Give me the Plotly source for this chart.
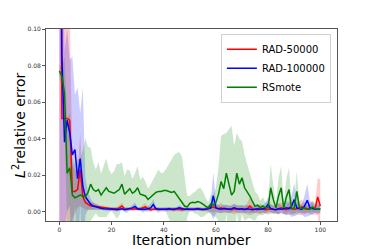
import plotly.graph_objects as go

iterations = list(range(101))

rad50k_mean = [0.30, 0.051, 0.051, 0.051, 0.050, 0.011, 0.011, 0.012, 0.023, 0.008,
               0.005, 0.004, 0.003, 0.003, 0.0028, 0.0025, 0.002, 0.002, 0.0018, 0.0015,
               0.0015, 0.0015, 0.0015, 0.002, 0.003, 0.0015, 0.0012, 0.0015, 0.0012, 0.0015,
               0.0012, 0.0015, 0.002, 0.0025, 0.0015, 0.001, 0.0012, 0.0015, 0.0012, 0.001,
               0.0012, 0.0012, 0.0015, 0.0012, 0.001, 0.0015, 0.0012, 0.001, 0.0012, 0.0015,
               0.0012, 0.001, 0.0012, 0.0015, 0.0012, 0.001, 0.0012, 0.0015, 0.002, 0.0025,
               0.002, 0.0015, 0.002, 0.0012, 0.0015, 0.0012, 0.001, 0.0015, 0.0012, 0.0015,
               0.0012, 0.001, 0.0015, 0.003, 0.0015, 0.0012, 0.001, 0.0015, 0.0012, 0.001,
               0.0012, 0.0015, 0.0012, 0.001, 0.0015, 0.002, 0.0015, 0.001, 0.002, 0.0015,
               0.0012, 0.0015, 0.002, 0.0025, 0.0015, 0.0012, 0.0015, 0.002, 0.0015, 0.008,
               0.003]
rad50k_std = [0.5, 0.06, 0.08, 0.1, 0.06, 0.015, 0.012, 0.01, 0.02, 0.006,
              0.004, 0.003, 0.002, 0.002, 0.0015, 0.0015, 0.0012, 0.0012, 0.001, 0.001,
              0.001, 0.001, 0.001, 0.0015, 0.002, 0.001, 0.001, 0.001, 0.001, 0.001,
              0.001, 0.001, 0.0015, 0.002, 0.001, 0.001, 0.001, 0.001, 0.001, 0.001,
              0.001, 0.001, 0.001, 0.001, 0.001, 0.001, 0.001, 0.001, 0.001, 0.001,
              0.001, 0.001, 0.001, 0.001, 0.001, 0.001, 0.001, 0.0015, 0.002, 0.003,
              0.002, 0.002, 0.003, 0.002, 0.002, 0.002, 0.002, 0.003, 0.002, 0.002,
              0.002, 0.002, 0.003, 0.005, 0.003, 0.002, 0.002, 0.003, 0.002, 0.002,
              0.002, 0.003, 0.002, 0.002, 0.003, 0.003, 0.003, 0.002, 0.004, 0.003,
              0.002, 0.003, 0.004, 0.004, 0.003, 0.002, 0.003, 0.004, 0.003, 0.01,
              0.015]

rad100k_mean = [0.30, 0.085, 0.038, 0.050, 0.043, 0.031, 0.034, 0.018, 0.029, 0.014,
                0.008, 0.006, 0.004, 0.003, 0.0025, 0.002, 0.0018, 0.0015, 0.0015, 0.0012,
                0.0012, 0.0012, 0.001, 0.0012, 0.0015, 0.001, 0.0012, 0.0015, 0.002, 0.0028,
                0.0015, 0.0012, 0.001, 0.0012, 0.0015, 0.002, 0.0038, 0.0015, 0.0012, 0.001,
                0.0012, 0.0012, 0.0015, 0.0012, 0.0012, 0.0015, 0.002, 0.0015, 0.0012, 0.0012,
                0.001, 0.0012, 0.0012, 0.0015, 0.0012, 0.001, 0.0012, 0.0015, 0.002, 0.0085,
                0.002, 0.0015, 0.0012, 0.0018, 0.0015, 0.0012, 0.0015, 0.002, 0.0015, 0.0012,
                0.0015, 0.0012, 0.0015, 0.0012, 0.001, 0.0012, 0.0015, 0.0012, 0.0015, 0.0018,
                0.004, 0.0015, 0.0012, 0.001, 0.0015, 0.0012, 0.0015, 0.002, 0.0015, 0.003,
                0.0065, 0.002, 0.0015, 0.0012, 0.003, 0.0062, 0.002, 0.0015, 0.0012, 0.0015,
                0.0012]
rad100k_std = [0.5, 0.1, 0.05, 0.05, 0.04, 0.054, 0.03, 0.05, 0.025, 0.054,
               0.01, 0.005, 0.003, 0.002, 0.0015, 0.0012, 0.001, 0.001, 0.001, 0.001,
               0.001, 0.001, 0.001, 0.001, 0.001, 0.001, 0.001, 0.001, 0.0015, 0.002,
               0.001, 0.001, 0.001, 0.001, 0.0015, 0.002, 0.003, 0.001, 0.001, 0.001,
               0.001, 0.001, 0.001, 0.001, 0.001, 0.001, 0.0015, 0.001, 0.001, 0.001,
               0.001, 0.001, 0.001, 0.001, 0.001, 0.001, 0.001, 0.0015, 0.003, 0.013,
               0.003, 0.002, 0.002, 0.002, 0.002, 0.002, 0.002, 0.002, 0.002, 0.002,
               0.002, 0.002, 0.002, 0.002, 0.002, 0.002, 0.002, 0.002, 0.002, 0.003,
               0.004, 0.002, 0.002, 0.002, 0.003, 0.002, 0.003, 0.004, 0.003, 0.006,
               0.009, 0.004, 0.002, 0.003, 0.006, 0.009, 0.004, 0.003, 0.002, 0.003,
               0.002]

rsmote_mean = [0.077, 0.074, 0.065, 0.021, 0.024, 0.009, 0.0075, 0.0085, 0.009, 0.0085,
               0.008, 0.0105, 0.015, 0.012, 0.011, 0.012, 0.009, 0.011, 0.013, 0.011,
               0.0105, 0.01, 0.011, 0.012, 0.015, 0.0095, 0.011, 0.0125, 0.01, 0.011,
               0.013, 0.0095, 0.009, 0.0085, 0.0066, 0.008, 0.0095, 0.0105, 0.011, 0.011,
               0.0115, 0.0115, 0.011, 0.0105, 0.011, 0.009, 0.0066, 0.005, 0.003, 0.0025,
               0.0045, 0.005, 0.0048, 0.0055, 0.005, 0.004, 0.003, 0.002, 0.004, 0.0035,
               0.005, 0.0095, 0.0165, 0.0125, 0.021, 0.015, 0.009, 0.011, 0.021, 0.015,
               0.0185, 0.013, 0.011, 0.0085, 0.0055, 0.003, 0.0035, 0.002, 0.003, 0.002,
               0.002, 0.013, 0.0065, 0.002, 0.0085, 0.013, 0.002, 0.008, 0.012, 0.0015,
               0.002, 0.011, 0.002, 0.0015, 0.002, 0.0015, 0.0012, 0.0025, 0.0015, 0.0015,
               0.0015]
rsmote_std = [0.003, 0.005, 0.02, 0.03, 0.03, 0.02, 0.018, 0.02, 0.02, 0.025,
              0.032, 0.025, 0.02, 0.015, 0.012, 0.015, 0.012, 0.014, 0.016, 0.012,
              0.01, 0.012, 0.015, 0.014, 0.012, 0.01, 0.012, 0.01, 0.008, 0.01,
              0.012, 0.008, 0.01, 0.008, 0.006, 0.007, 0.008, 0.01, 0.012, 0.01,
              0.01, 0.012, 0.015, 0.018, 0.02, 0.023, 0.026, 0.025, 0.015, 0.006,
              0.004, 0.005, 0.006, 0.007, 0.008, 0.007, 0.005, 0.003, 0.005, 0.006,
              0.008, 0.015, 0.025, 0.03, 0.022, 0.03, 0.038, 0.025, 0.022, 0.025,
              0.02, 0.018, 0.015, 0.012, 0.01, 0.008, 0.006, 0.004, 0.005, 0.003,
              0.004, 0.013, 0.008, 0.003, 0.01, 0.012, 0.003, 0.01, 0.012, 0.003,
              0.004, 0.011, 0.003, 0.002, 0.003, 0.002, 0.002, 0.003, 0.002, 0.002,
              0.002]

series_names = ["RAD-50000", "RAD-100000", "RSmote"]
line_colors = ["#ff0000", "#0000ff", "#008000"]
fill_colors = ["rgba(255,0,0,0.2)", "rgba(0,0,255,0.2)", "rgba(0,128,0,0.2)"]
means = [rad50k_mean, rad100k_mean, rsmote_mean]
stds = [rad50k_std, rad100k_std, rsmote_std]

fig = go.Figure()

for m, s, fc in zip(means, stds, fill_colors):
    upper = [a + b for a, b in zip(m, s)]
    lower = [a - b for a, b in zip(m, s)]
    fig.add_trace(go.Scatter(
        x=iterations + iterations[::-1], y=upper + lower[::-1],
        fill="toself", fillcolor=fc, line=dict(width=0), mode="lines",
        hoverinfo="skip", showlegend=False))

for m, name, lc in zip(means, series_names, line_colors):
    fig.add_trace(go.Scatter(x=iterations, y=m, mode="lines", name=name,
                             line=dict(color=lc, width=1.5)))

axis_common = dict(showline=True, mirror=True, linecolor="#555", linewidth=1,
                   ticks="outside", ticklen=3, tickwidth=0.8, tickcolor="#555",
                   showgrid=False, zeroline=False,
                   tickfont=dict(family="DejaVu Sans", size=6, color="#333"))

fig.update_xaxes(range=[-5.1, 106.4], tickvals=[0, 20, 40, 60, 80, 100], **axis_common)
fig.update_yaxes(range=[-0.0052, 0.1], tickvals=[0, 0.02, 0.04, 0.06, 0.08, 0.10],
                 tickformat=".2f", **axis_common)

fig.update_layout(
    width=374, height=249,
    margin=dict(l=46, r=37, t=29, b=28),
    plot_bgcolor="white", paper_bgcolor="white",
    font=dict(family="DejaVu Sans", color="black"),
    legend=dict(x=0.979, y=0.975, xanchor="right", yanchor="top",
                bgcolor="rgba(255,255,255,0.8)", bordercolor="#d0d0d0", borderwidth=1,
                font=dict(family="DejaVu Sans", size=10, color="black"),
                tracegroupgap=0, itemwidth=30),
    annotations=[
        dict(text="Iteration number", xref="paper", yref="paper", x=0.5, y=-0.099,
             xanchor="center", yanchor="middle", showarrow=False,
             font=dict(family="DejaVu Sans", size=14, color="black")),
        dict(text="<i>L</i><sup>2</sup>relative error", xref="paper", yref="paper",
             x=-0.093, y=0.5, xanchor="center", yanchor="middle", textangle=-90,
             showarrow=False, font=dict(family="DejaVu Sans", size=14, color="black")),
    ],
)

fig.write_html("out.html", config={"displayModeBar": False},
               post_script="document.body.style.margin='0';document.body.style.overflow='hidden';")
